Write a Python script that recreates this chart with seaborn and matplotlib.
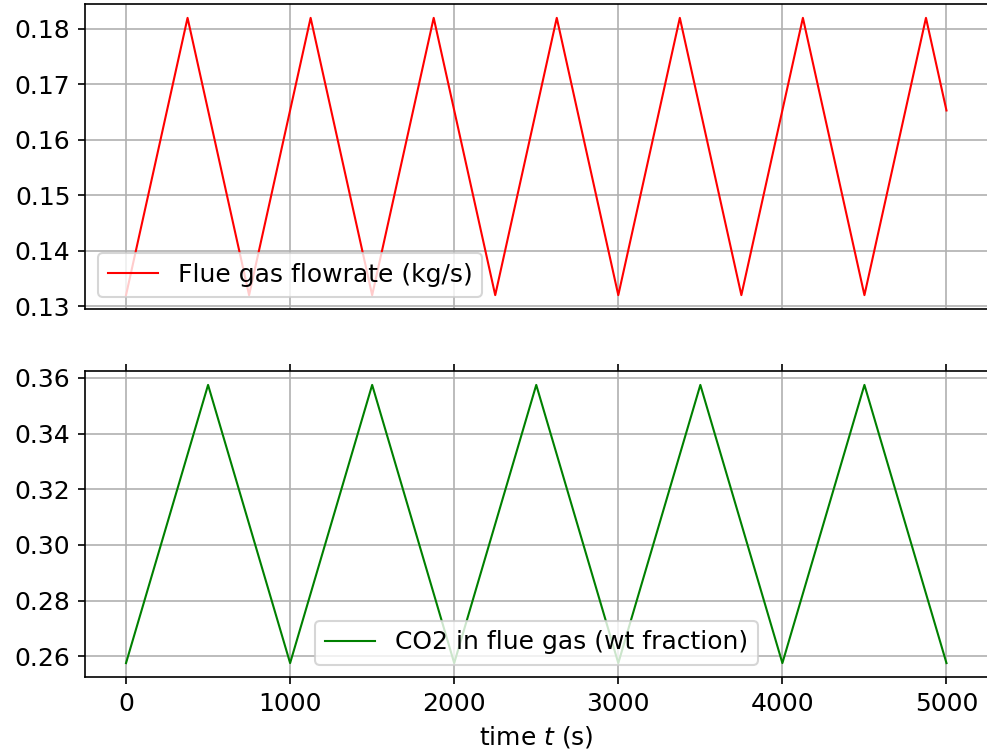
import numpy as np
import pandas as pd
import seaborn as sns
import matplotlib
matplotlib.use("Agg")
import matplotlib.pyplot as plt

# DATA (vertices of the two triangle signals)
flow_time = [0, 375, 750, 1125, 1500, 1875, 2250, 2625, 3000, 3375,
             3750, 4125, 4500, 4875, 5000]
flow_rate = [0.132, 0.182, 0.132, 0.182, 0.132, 0.182, 0.132, 0.182,
             0.132, 0.182, 0.132, 0.182, 0.132, 0.182, 0.1653]

co2_time = [0, 500, 1000, 1500, 2000, 2500, 3000, 3500, 4000, 4500, 5000]
co2_frac = [0.2575, 0.3575, 0.2575, 0.3575, 0.2575, 0.3575,
            0.2575, 0.3575, 0.2575, 0.3575, 0.2575]

x_ticks = [0, 1000, 2000, 3000, 4000, 5000]

df_flow = pd.DataFrame({"t": flow_time, "v": flow_rate})
df_co2 = pd.DataFrame({"t": co2_time, "v": co2_frac})

plt.rcParams["font.family"] = ["DejaVu Sans"]
plt.rcParams["font.size"] = 12

fig = plt.figure(figsize=(987 / 150, 755 / 150), dpi=150)
W, H = 987, 755
ax1 = fig.add_axes([85 / W, 1 - 309 / H, (987.5 - 85) / W, (309 - 4) / H])
ax2 = fig.add_axes([85 / W, 1 - 677 / H, (987.5 - 85) / W, (677 - 371) / H], sharex=ax1)

sns.lineplot(data=df_flow, x="t", y="v", color="red", linewidth=1.0,
             label="Flue gas flowrate (kg/s)", ax=ax1)
sns.lineplot(data=df_co2, x="t", y="v", color="green", linewidth=1.0,
             label="CO2 in flue gas (wt fraction)", ax=ax2)

for ax in (ax1, ax2):
    ax.grid(True)
    ax.set_ylabel("")
    ax.set_xlabel("")
    ax.set_xticks(x_ticks)

ax1.tick_params(axis="x", labelbottom=False, bottom=False)
ax2.tick_params(axis="x", top=True)
ax1.set_yticks([0.13, 0.14, 0.15, 0.16, 0.17, 0.18])
ax2.set_yticks([0.26, 0.28, 0.30, 0.32, 0.34, 0.36])
ax1.legend(loc="lower left")
ax2.legend(loc="lower center")
ax2.set_xlabel("time $t$ (s)")

fig.savefig("out.png", dpi=150)
